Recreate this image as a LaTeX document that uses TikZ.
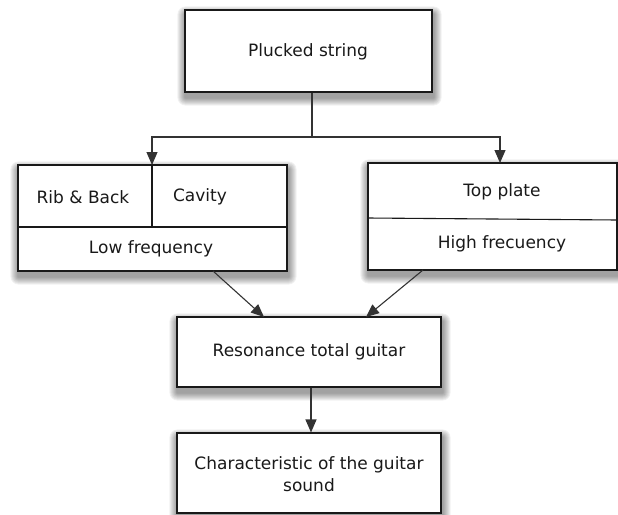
\documentclass[tikz,border=0pt]{standalone}
\usepackage{fontspec}
\setmainfont{DejaVu Sans}
\usetikzlibrary{arrows.meta,calc}
\pgfdeclarelayer{background}
\pgfsetlayers{background,main}
\tikzset{
  box/.style={draw=black!90, line width=1.1pt, fill=white, rectangle, inner sep=0pt},
  divider/.style={draw=black!90, line width=1.1pt},
  lbl/.style={font=\fontsize{17}{21}\selectfont, text=black!90, inner sep=0pt, align=center},
  link/.style={draw=black!80, line width=1.1pt},
  arrowlink/.style={link, -{Triangle[length=13pt,width=11pt]}}
}
% soft drop shadow under a named box, built from stacked translucent rectangles
\newcommand{\softshadow}[1]{%
  \begin{pgfonlayer}{background}
    \foreach \e in {1,...,8}{%
      \fill[black, opacity=0.055, rounded corners=\e pt]
        ($(#1.north west)+(1-\e,5-\e)$) rectangle ($(#1.south east)+(1+\e,5+\e)$);
    }
  \end{pgfonlayer}}
\begin{document}
\begin{tikzpicture}[x=1pt,y=-1pt]
  \useasboundingbox (0,0) rectangle (618,514);

  % boxes
  \node[box, minimum width=247pt, minimum height=82pt] (pluck) at (308.5,51) {};
  \node[box, minimum width=269pt, minimum height=106pt] (lowbox) at (152.5,218) {};
  \node[box, minimum width=249pt, minimum height=107pt] (topbox) at (492.5,216.5) {};
  \node[box, minimum width=264pt, minimum height=70pt] (reso) at (309,352) {};
  \node[box, minimum width=264pt, minimum height=80pt] (charac) at (309,473) {};
  \softshadow{pluck}
  \softshadow{lowbox}
  \softshadow{topbox}
  \softshadow{reso}
  \softshadow{charac}

  % inner dividers of the two resonator boxes
  \draw[divider] (lowbox.west |- 0,227) -- (lowbox.east |- 0,227);
  \draw[divider] (152,227) -- (lowbox.north -| 152,0);
  \draw[divider] (topbox.west |- 0,218) -- (topbox.east |- 0,220);

  % labels
  \node[lbl] (tpluck) at (308,52) {Plucked string};
  \node[lbl] (trib) at (83,197) {Rib \& Back};
  \node[lbl] (tcav) at (200,197) {Cavity};
  \node[lbl] (tlow) at (151,249) {Low frequency};
  \node[lbl] (ttop) at (502,192) {Top plate};
  \node[lbl] (thigh) at (502,244) {High frecuency};
  \node[lbl] (treso) at (309,352) {Resonance total guitar};
  \node[lbl, font=\fontsize{17}{22}\selectfont] (tchar) at (309,474) {Characteristic of the guitar\\sound};

  % branching from the string
  \coordinate (split) at (312,137);
  \coordinate (lowin) at (152,165);
  \coordinate (topin) at (500,163);
  \draw[link] (pluck.south -| split) -- (split);
  \draw[arrowlink] (split) -| (lowin);
  \draw[arrowlink] (split) -| (topin);

  % into the total resonance
  \coordinate (lowout) at (213,271);
  \coordinate (highout) at (423,270);
  \coordinate (resoinl) at (264,317);
  \coordinate (resoinr) at (366,317);
  \draw[arrowlink] (lowout) -- (resoinl);
  \draw[arrowlink] (highout) -- (resoinr);

  % to the final sound
  \draw[arrowlink] (reso.south -| 311,0) -- (charac.north -| 311,0);
\end{tikzpicture}
\end{document}
